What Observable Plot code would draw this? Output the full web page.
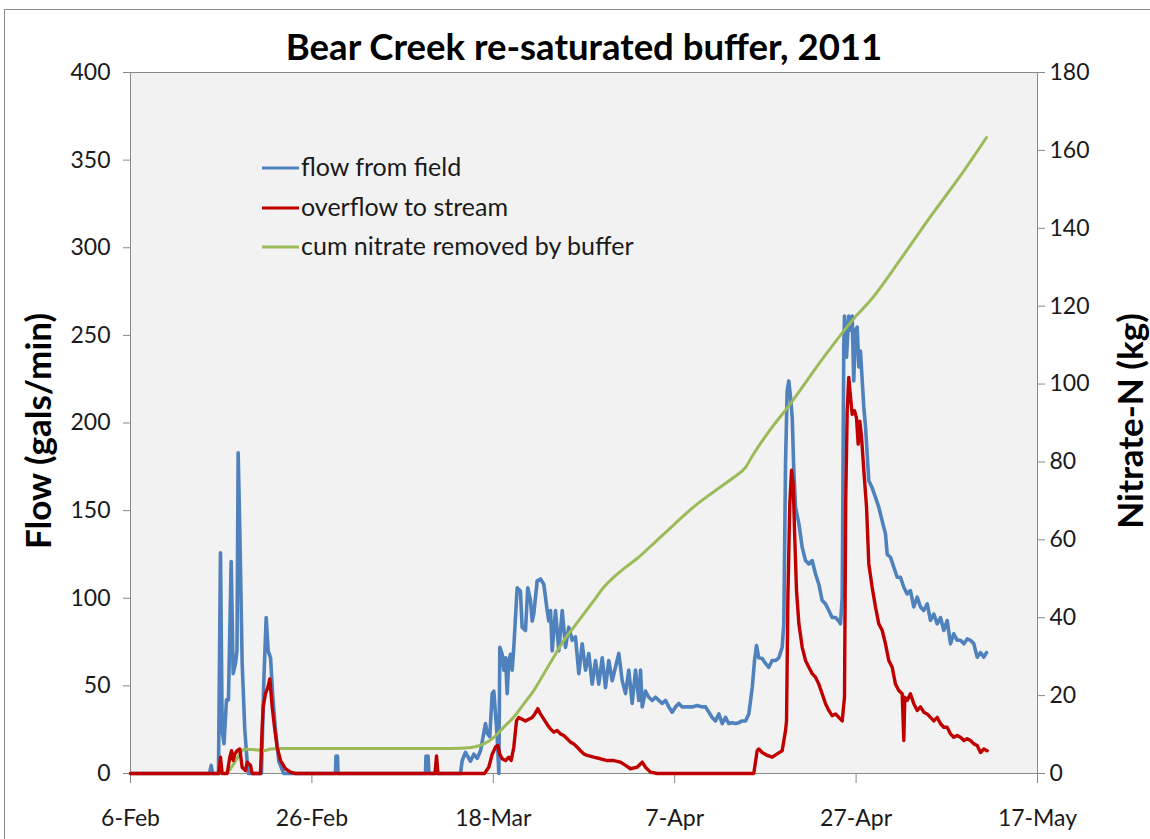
<!DOCTYPE html>
<html>
<head>
<meta charset="utf-8">
<script src="https://cdn.jsdelivr.net/npm/d3@7"></script>
<script src="https://cdn.jsdelivr.net/npm/@observablehq/plot@0.6"></script>
<style>
  body { margin: 0; background: #fff; }
  #wrap { position: relative; width: 1150px; height: 839px; overflow: hidden; font-family: Lato, sans-serif; }
  #chart { position: absolute; left: 0; top: 0; }
  #border { position: absolute; left: 4px; top: 9px; width: 1200px; height: 900px; border: 1px solid #8c8c8c; box-sizing: border-box; pointer-events: none; }
  #legend { position: absolute; left: 0; top: 0; }
</style>
</head>
<body>
<div id="wrap">
  <div id="chart"></div>
  <div id="border"></div>
  <svg id="legend" width="1150" height="839"></svg>
</div>
<script>
// ---------- data (days after 6-Feb-2011) ----------
const titleText = "Bear Creek re-saturated buffer, 2011";
const leftAxisTitle = "Flow (gals/min)";
const rightAxisTitle = "Nitrate-N (kg)";
const seriesNames = ["flow from field", "overflow to stream", "cum nitrate removed by buffer"];
const seriesColors = ["#4f81bd", "#c00000", "#9bbb59"];

const xTickDays = [0, 20, 40, 60, 80, 100];
const xTickLabels = ["6-Feb", "26-Feb", "18-Mar", "7-Apr", "27-Apr", "17-May"];
const flowTicks = [0, 50, 100, 150, 200, 250, 300, 350, 400];
const nitrateTicks = [0, 20, 40, 60, 80, 100, 120, 140, 160, 180];

const flowDays = [0, 8.71, 8.90, 9.04, 9.70,
  9.92, 10.11, 10.31, 10.58, 10.80, 11.10, 11.32, 11.58, 11.74, 11.87, 12.05, 12.31, 12.60, 12.87, 13.01,
  14.44, 14.70, 14.96, 15.18, 15.44, 15.69, 15.99, 16.35, 16.90,
  22.60, 22.66, 22.82, 22.88,
  32.52, 32.58, 32.69, 32.80, 32.91,
  36.38, 36.57, 36.93, 37.49, 37.85, 38.22, 38.59, 38.95, 39.14, 39.33, 39.61, 39.88, 40.06, 40.24, 40.43, 40.61,
  40.72, 40.98, 41.16, 41.35, 41.53, 41.71, 41.90, 42.08, 42.26, 42.63, 42.99, 43.18, 43.55, 43.80, 44.10, 44.29, 44.46, 44.84, 45.20, 45.57, 45.94, 46.12, 46.31, 46.49, 46.86, 47.22, 47.60, 47.96, 48.32, 48.70, 49.06, 49.43, 49.80, 50.17, 50.53, 50.90, 51.27, 51.63, 52.01, 52.37, 52.73, 53.11, 53.47, 53.84, 54.21, 54.58, 54.94, 55.31, 55.68, 56.04,
  56.23, 56.42, 56.78, 57.14, 57.52, 57.88, 58.25, 58.62, 58.99, 59.35, 59.72, 60.09, 60.45, 60.83, 61.38, 61.93, 62.48, 63.03, 63.40, 63.76, 64.13, 64.50, 64.86, 65.24, 65.60, 65.96, 66.34, 66.70, 67.07, 67.44, 67.81, 68.17,
  68.55, 68.80, 69.02, 69.27, 69.65, 70.01, 70.37, 70.75, 71.11, 71.48, 71.85, 72.03,
  72.22, 72.40, 72.58, 72.77, 72.96, 73.13, 73.32, 73.69, 74.06, 74.42, 74.79, 75.16, 75.52, 75.89, 76.26, 76.63, 76.99, 77.36, 77.73, 78.09, 78.28, 78.47,
  78.64, 78.72, 78.94, 79.19, 79.38, 79.57, 79.74, 79.93, 80.12, 80.30, 80.48, 80.85, 81.04, 81.40, 81.77, 82.14, 82.50, 82.88, 83.24, 83.43, 83.79, 84.16, 84.53, 84.89, 85.26, 85.63, 85.99, 86.36, 86.74, 87.10, 87.46, 87.84, 88.20, 88.57, 88.94, 89.31, 89.67, 90.04, 90.41, 90.77, 91.15, 91.51, 91.88, 92.25, 92.61, 92.98, 93.35, 93.72, 94.08, 94.38];
const flowValues = [0, 0, 4.6, 0, 0,
  126, 24, 17, 42, 42, 121, 57, 63, 70, 183, 139, 63, 25, 6, 0,
  0, 53, 89, 70, 66, 43.5, 24.5, 7, 0,
  0, 10, 10, 0,
  0, 10, 0, 10, 0,
  0, 7.4, 12, 7, 11, 8.6, 13, 23, 28.5, 23, 21, 45.6, 47, 34, 21, 0,
  72, 68, 59, 66, 45.6, 64.5, 68, 59, 72, 106, 104, 83.5, 81.6, 106, 98.7, 87, 91, 110, 111, 108, 93, 87, 93, 70, 93, 70, 93, 72, 83.5, 76, 78, 57, 74, 59, 68.5, 51, 64.5, 51, 66, 49, 64.5, 53, 60.6, 68.5, 53, 45.6, 59, 40, 59, 41.7,
  59, 38, 47, 43.5, 41.7, 43.5, 41.7, 40, 41.7, 38, 35, 38, 40, 38, 38, 38, 38.8, 38, 38, 35, 32, 30, 34, 28.5, 32, 28.5, 29, 28.5, 29, 30, 30, 34,
  49, 64.5, 73, 66, 65.6, 62.8, 60.6, 64.5, 64.5, 66, 72, 85.6,
  177, 218.5, 224, 215, 203, 173, 152, 142.5, 129, 121.5, 119.6, 121.5, 114, 108, 98.7, 96.8, 93, 89, 89, 87, 85.4, 100.6,
  243, 261, 237.5, 261, 253, 261, 224, 253, 254.7, 232, 241, 209, 197.6, 167, 163, 157.6, 152, 144, 136.8, 125, 123.4, 117.7, 112, 112, 106.3, 102.5, 104.4, 95, 100.6, 95, 93, 96.8, 87.3, 91, 85.4, 89, 81.6, 87.3, 74, 79.7, 76, 76, 74, 76.8, 76, 74, 66.4, 69, 66.4, 69];

const overflowDays = [0, 9.74, 9.92, 10.11, 10.66, 10.95, 11.14, 11.32, 11.49, 11.76, 12.05, 12.31, 12.68, 12.87, 13.23, 13.42,
  14.33, 14.52, 14.63, 14.88, 15.14, 15.36, 15.62, 15.88, 16.17, 16.54, 17.09, 17.64, 18.19,
  33.57, 33.74, 33.90,
  39.03, 39.50, 39.88, 40.24, 40.50, 40.72, 40.98, 41.35, 41.71, 41.97, 42.26, 42.56, 42.81, 43.18, 43.55, 43.91, 44.29, 44.58, 44.91, 45.20, 45.57, 45.94, 46.31, 46.67, 47.04, 47.41, 47.77, 48.15, 48.51, 48.88, 49.25, 49.61, 49.98, 50.35, 51.08, 51.82, 52.56, 53.29, 54.02, 54.58, 55.13, 55.86, 56.42, 56.78, 57.33, 58.07,
  68.72, 69.09, 69.27, 69.65, 70.20, 70.75, 71.30, 71.85, 72.22, 72.33, 72.48, 72.69, 72.88, 73.07, 73.21, 73.43, 73.69, 74.06, 74.42, 74.79, 75.16, 75.52, 75.89, 76.26, 76.63, 76.99, 77.36, 77.73, 78.09, 78.47,
  78.72, 78.86, 79.02, 79.19, 79.38, 79.57, 79.82, 80.04, 80.23, 80.41, 80.60, 80.85, 81.15, 81.40, 81.77, 82.14, 82.50, 82.88, 83.24, 83.60, 83.98, 84.34, 84.71, 85.08, 85.26, 85.37, 85.63, 85.99, 86.36, 86.74, 87.10, 87.46, 87.84, 88.20, 88.57, 88.94, 89.31, 89.67, 90.04, 90.41, 90.77, 91.15, 91.51, 91.88, 92.25, 92.61, 92.98, 93.35, 93.72, 94.08, 94.45];
const overflowValues = [0, 0, 9.3, 0, 0, 9.3, 13, 7.4, 11, 13, 14, 3.6, 1.7, 6.5, 4.6, 0,
  0, 26.4, 38, 45.5, 49, 54, 38, 26.4, 15, 7.4, 2.7, 0.8, 0,
  0, 10, 0,
  0, 3.6, 11, 15, 16, 11, 8.4, 7.4, 9.3, 7.4, 15, 30, 32, 31, 30, 31, 32, 34, 37, 34, 31, 28, 25.4, 23.6, 24.5, 22.6, 21.7, 19.8, 17.9, 16.9, 15, 13, 11.2, 10.3, 9.3, 8.4, 7.4, 7.4, 6.5, 4.6, 2.7, 3.6, 6.5, 3.6, 0.8, 0,
  0, 13, 14, 12, 10.3, 9.3, 11.2, 13, 24.5, 30, 100.6, 154, 173, 165, 138.7, 104.4, 85.4, 72, 64.5, 60.6, 57, 55, 51, 45.5, 39.8, 36, 33, 34, 32, 30,
  43.5, 157.6, 207, 226, 215, 205, 207, 203, 188, 201, 192, 173, 152, 119.6, 106.3, 95, 85.4, 81.6, 74, 64.5, 60.6, 51, 47.4, 45.5, 18.8, 43.5, 41.7, 45.5, 39.8, 36, 38, 35, 34, 32, 30, 32, 28.4, 26.4, 26.4, 22.6, 20.7, 21.7, 20.7, 18.8, 19.8, 18.8, 16.9, 16, 12, 14, 13];

const nitrateDays = [10.66, 11.39, 11.94, 12.31, 12.68, 14.33, 14.88, 15.44, 16.54, 34.18, 36.38, 37.85, 38.95, 40.06, 41.16, 42.26, 43.36, 44.46, 45.57, 46.67, 47.77, 48.88, 49.98, 51.08, 52.18, 53.29, 54.39, 55.86, 57.88, 59.87, 62.07, 64.28, 66.48, 67.81, 68.58, 70.20, 72.77, 76.44, 79.75, 81.59, 84.89, 88.20, 91.51, 94.38];
const nitrateValues = [0, 2.5, 4.6, 5.9, 6.2, 6.0, 5.9, 6.3, 6.4, 6.4, 6.5, 6.8, 7.6, 9.3, 11.9, 14.5, 17.9, 21.3, 25.6, 29.9, 34.2, 37.6, 41.0, 44.4, 47.8, 50.4, 52.6, 55.2, 59.5, 63.8, 68.4, 72.3, 76.0, 78.6, 81.6, 87.2, 95.0, 106.9, 116.8, 121.5, 132.0, 143.0, 153.5, 163.3];

// ---------- helpers ----------
const BASE = Date.UTC(2011, 1, 6);
const toDate = d => new Date(BASE + d * 864e5);
const K = 400 / 180; // secondary axis -> primary axis units
const zip = (days, vals, f = v => v) => {
  const n = Math.min(days.length, vals.length);
  return d3.range(n).map(i => ({date: toDate(days[i]), v: f(vals[i])}));
};
const flowData = zip(flowDays, flowValues);
const overflowData = zip(overflowDays, overflowValues);
const nitrateData = zip(nitrateDays, nitrateValues, v => v * K);

const gray = "#898989";
const ink = "#1a1a1a";

const chart = Plot.plot({
  width: 1150,
  height: 839,
  marginLeft: 130,
  marginRight: 113,
  marginTop: 72,
  marginBottom: 66,
  style: {fontFamily: "Lato, sans-serif", fontSize: "23px", background: "white", color: ink},
  x: {type: "utc", domain: [toDate(0), toDate(100)], label: null},
  y: {domain: [0, 400], label: null},
  marks: [
    Plot.frame({fill: "#f2f2f2", stroke: gray}),
    Plot.axisY({anchor: "left", ticks: flowTicks, tickSize: 7, tickPadding: 13, stroke: gray, fill: ink, label: null, tickFormat: d => String(d)}),
    Plot.axisY({anchor: "right", ticks: nitrateTicks.map(v => v * K), tickSize: 7, tickPadding: 5, stroke: gray, fill: ink, label: null,
      tickFormat: d => String(Math.round(d / K))}),
    Plot.axisX({ticks: xTickDays.map(toDate), tickSize: 10, tickPadding: 26, stroke: gray, fill: ink, label: null,
      tickFormat: d => xTickLabels[xTickDays.indexOf(Math.round((d - BASE) / 864e5))]}),
    Plot.line(flowData, {x: "date", y: "v", stroke: seriesColors[0], strokeWidth: 3.6, strokeLinejoin: "round"}),
    Plot.line(nitrateData, {x: "date", y: "v", stroke: seriesColors[2], strokeWidth: 3, curve: "monotone-x", strokeLinejoin: "round"}),
    Plot.line(overflowData, {x: "date", y: "v", stroke: seriesColors[1], strokeWidth: 3.4, strokeLinejoin: "round"}),
    Plot.text([titleText], {frameAnchor: "top", dy: -24.5, lineAnchor: "middle", textAnchor: "middle", fontSize: 36.5, fontWeight: "bold", fill: "#000"}),
    Plot.text([leftAxisTitle], {frameAnchor: "left", dx: -91, dy: 8, rotate: -90, textAnchor: "middle", lineAnchor: "middle", fontSize: 35, fontWeight: "bold", fill: "#000"}),
    Plot.text([rightAxisTitle], {frameAnchor: "right", dx: 94, dy: -2, rotate: -90, textAnchor: "middle", lineAnchor: "middle", fontSize: 35, fontWeight: "bold", fill: "#000"})
  ]
});
document.getElementById("chart").appendChild(chart);

// ---------- legend ----------
const legend = d3.select("#legend");
const rowY = [168, 208, 247];
seriesNames.forEach((name, i) => {
  legend.append("line").attr("x1", 262).attr("x2", 299).attr("y1", rowY[i]).attr("y2", rowY[i])
    .attr("stroke", seriesColors[i]).attr("stroke-width", 3);
  legend.append("text").attr("x", 301).attr("y", rowY[i] + 7.5)
    .attr("font-family", "Lato, sans-serif").attr("font-size", 25).attr("fill", ink).text(name);
});
</script>
</body>
</html>
